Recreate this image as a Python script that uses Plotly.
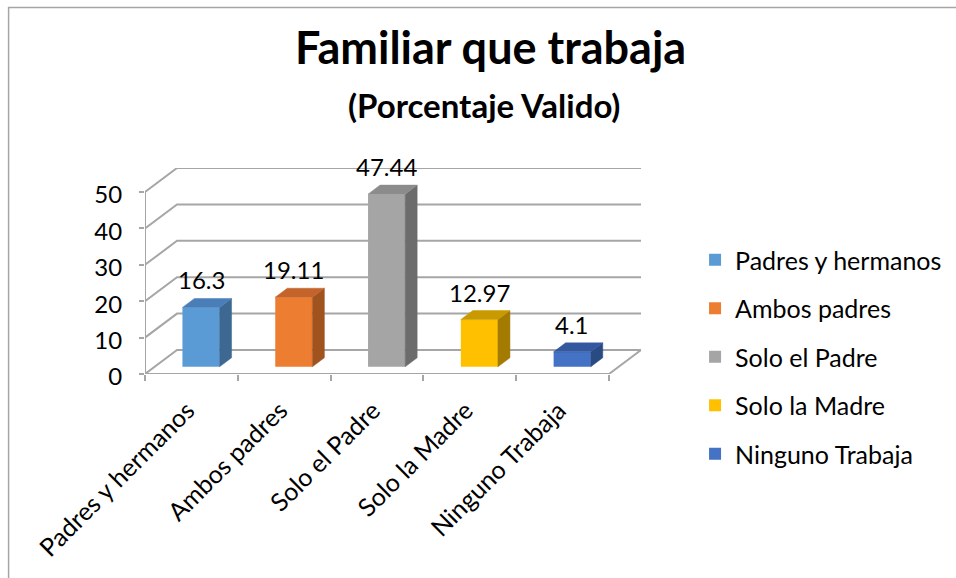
import plotly.graph_objects as go

# ---- data ----
categories = ["Padres y hermanos", "Ambos padres", "Solo el Padre", "Solo la Madre", "Ninguno Trabaja"]
values = [16.3, 19.11, 47.44, 12.97, 4.1]
y_ticks = [0, 10, 20, 30, 40, 50]
title_text = "Familiar que trabaja"
subtitle_text = "(Porcentaje Valido)"

# ---- styles ----
front_colors = ["#5B9BD5", "#ED7D31", "#A5A5A5", "#FFC000", "#4472C4"]
side_colors = ["#3C6892", "#A0531F", "#6C6C6C", "#A27B00", "#2A4A82"]
top_colors = ["#4A7EB8", "#C4642A", "#8C8C8C", "#C89A00", "#3458A0"]
GRID = "#A6A6A6"
FONT = "Lato"

# oblique projection constants (depth offsets in axis units)
DX = 0.345   # category units for full depth
DY = 6.6     # value units for full depth
D0 = 0.30    # bar front depth
D1 = 0.675   # bar back depth
BW = 0.40    # bar width
n = len(categories)
x_left, x_right = -0.5, n - 0.5
y_top = max(y_ticks)

fig = go.Figure()

# front faces (bars)
for i, (cat, v) in enumerate(zip(categories, values)):
    fig.add_trace(go.Bar(
        x=[i + D0 * DX], y=[v], base=D0 * DY, width=BW,
        name=cat, legendgroup=cat,
        marker=dict(color=front_colors[i], line=dict(width=0)),
        hoverinfo="skip",
    ))

# side and top faces
ddx = (D1 - D0) * DX
ddy = (D1 - D0) * DY
for i, v in enumerate(values):
    xl = i + D0 * DX - BW / 2
    xr = i + D0 * DX + BW / 2
    b0 = D0 * DY
    t0 = b0 + v
    fig.add_trace(go.Scatter(
        x=[xr, xr, xr + ddx, xr + ddx, xr], y=[b0, t0, t0 + ddy, b0 + ddy, b0],
        fill="toself", fillcolor=side_colors[i], mode="lines",
        line=dict(width=0.5, color=side_colors[i]), showlegend=False, hoverinfo="skip"))
    fig.add_trace(go.Scatter(
        x=[xl, xr, xr + ddx, xl + ddx, xl], y=[t0, t0, t0 + ddy, t0 + ddy, t0],
        fill="toself", fillcolor=top_colors[i], mode="lines",
        line=dict(width=0.5, color=top_colors[i]), showlegend=False, hoverinfo="skip"))

# walls / gridlines
shapes = []
for v in y_ticks:
    shapes.append(dict(
        type="path", xref="x", yref="y", layer="below",
        path=f"M{x_left},{v} L{x_left + DX},{v + DY} L{x_right + DX},{v + DY}",
        line=dict(color=GRID, width=2)))
# front floor edge + right diagonal
shapes.append(dict(type="path", xref="x", yref="y", layer="below",
                   path=f"M{x_left},0 L{x_right},0 L{x_right + DX},{DY}",
                   line=dict(color=GRID, width=2)))
# front vertical axis line
shapes.append(dict(type="line", xref="x", yref="y", layer="below",
                   x0=x_left, x1=x_left, y0=0, y1=y_top,
                   line=dict(color=GRID, width=2)))
# outer border
shapes.append(dict(type="rect", xref="paper", yref="paper",
                   x0=-0.275, x1=2.0, y0=-2.0, y1=1.779,
                   line=dict(color=GRID, width=1.5), fillcolor="rgba(0,0,0,0)"))

annotations = []
for i, v in enumerate(values):
    annotations.append(dict(
        x=i + D0 * DX, y=v + D1 * DY, xref="x", yref="y",
        text=f"{v:g}", showarrow=False, yanchor="bottom", yshift=2,
        font=dict(family=FONT, size=24, color="#000000")))
annotations.append(dict(
    x=0.697, y=1.585, xref="paper", yref="paper", text=f"<b>{title_text}</b>",
    showarrow=False, xanchor="center", yanchor="middle",
    font=dict(family=FONT, size=45, color="#000000")))
annotations.append(dict(
    x=0.683, y=1.305, xref="paper", yref="paper", text=f"<b>{subtitle_text}</b>",
    showarrow=False, xanchor="center", yanchor="middle",
    font=dict(family=FONT, size=33, color="#000000")))

fig.update_layout(
    width=956, height=578,
    margin=dict(l=145, r=314.5, t=168, b=204, autoexpand=False),
    paper_bgcolor="white", plot_bgcolor="rgba(0,0,0,0)",
    barmode="overlay",
    showlegend=True,
    legend=dict(x=1.109, y=0.665, xanchor="left", yanchor="top",
                font=dict(family=FONT, size=25, color="#000000"),
                traceorder="grouped", tracegroupgap=13, maxheight=600,
                bgcolor="rgba(0,0,0,0)"),
    shapes=shapes, annotations=annotations,
    font=dict(family=FONT, color="#000000"),
)
fig.update_xaxes(
    range=[x_left, x_right + DX], tickmode="array",
    tickvals=list(range(n)), ticktext=categories, tickangle=-45,
    ticks="", showgrid=False, zeroline=False, showline=False,
    tickfont=dict(family=FONT, size=25, color="#000000"),
    ticklabelshift=-4, ticklabelstandoff=16,
    minor=dict(tickmode="array", tickvals=[k - 0.5 for k in range(n + 1)],
               ticks="outside", ticklen=6, tickcolor=GRID, tickwidth=2, showgrid=False),
    fixedrange=True,
)
fig.update_yaxes(
    range=[0, y_top + DY], tickmode="array", tickvals=y_ticks,
    ticks="outside", ticklen=5, tickcolor=GRID, tickwidth=2,
    showgrid=False, zeroline=False, showline=False,
    ticklabelstandoff=12, ticklabelshift=3,
    tickfont=dict(family=FONT, size=24, color="#000000"),
    fixedrange=True,
)

fig.write_html("out.html", config={"displayModeBar": False},
               post_script="document.body.style.margin='0';document.body.style.overflow='hidden';")
